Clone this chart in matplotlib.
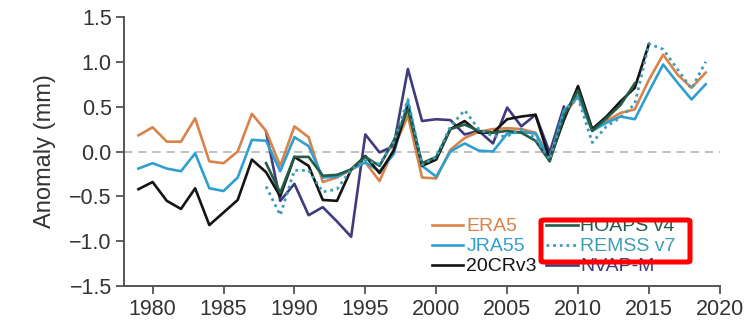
import numpy as np
import matplotlib.pyplot as plt
from matplotlib.patches import FancyBboxPatch

plt.rcParams['font.family'] = ['Liberation Sans', 'DejaVu Sans']

# yearly anomalies (mm)
years_era5 = list(range(1979, 2020))
era5 = [0.18, 0.27, 0.11, 0.11, 0.37, -0.11, -0.13, 0.00, 0.42, 0.23,
        -0.16, 0.28, 0.16, -0.34, -0.29, -0.20, -0.12, -0.33, 0.03, 0.40,
        -0.29, -0.30, 0.02, 0.15, 0.22, 0.25, 0.26, 0.25, 0.21, -0.07,
        0.40, 0.62, 0.25, 0.34, 0.43, 0.47, 0.80, 1.08, 0.86, 0.71, 0.88]

years_jra55 = list(range(1979, 2020))
jra55 = [-0.19, -0.13, -0.19, -0.22, -0.02, -0.41, -0.44, -0.29, 0.13, 0.12,
         -0.22, 0.16, 0.06, -0.29, -0.28, -0.20, -0.12, -0.22, -0.03, 0.56,
         -0.16, -0.28, 0.00, 0.09, 0.01, 0.00, 0.20, 0.22, 0.20, -0.09,
         0.45, 0.62, 0.23, 0.32, 0.39, 0.36, 0.67, 0.97, 0.77, 0.58, 0.75]

years_20cr = list(range(1979, 2016))
cr20 = [-0.42, -0.34, -0.55, -0.64, -0.41, -0.82, -0.68, -0.54, -0.09, -0.23,
        -0.50, -0.06, -0.16, -0.54, -0.55, -0.20, -0.05, -0.24, 0.01, 0.50,
        -0.16, -0.09, 0.25, 0.34, 0.21, 0.21, 0.36, 0.39, 0.41, -0.09,
        0.35, 0.73, 0.25, 0.39, 0.56, 0.71, 1.20]

years_hoaps = list(range(1988, 2015))
hoaps = [-0.13, -0.46, -0.06, -0.06, -0.27, -0.26, -0.20, -0.06, -0.16, 0.12,
         0.47, -0.13, -0.06, 0.25, 0.30, 0.23, 0.21, 0.23, 0.21, 0.12,
         -0.11, 0.40, 0.68, 0.23, 0.37, 0.52, 0.76]

years_remss = list(range(1988, 2020))
remss = [-0.39, -0.71, -0.21, -0.21, -0.45, -0.42, -0.20, -0.10, -0.14, 0.10,
         0.58, -0.15, -0.06, 0.28, 0.46, 0.25, 0.17, 0.17, 0.25, 0.15,
         -0.09, 0.45, 0.60, 0.10, 0.28, 0.38, 0.53, 1.20, 1.14, 0.92,
         0.70, 1.00]

years_nvap = list(range(1988, 2010))
nvap = [0.22, -0.55, -0.36, -0.71, -0.62, -0.78, -0.95, 0.19, -0.01, 0.06,
        0.92, 0.34, 0.36, 0.35, 0.19, 0.23, 0.09, 0.49, 0.28, 0.41,
        -0.01, 0.50]

labels = ['ERA5', 'JRA55', '20CRv3', 'HOAPS v4', 'REMSS v7', 'NVAP-M']
colors = ['#d8834a', '#2f9fd2', '#141414', '#245c48', '#3e9db5', '#3f3b7c']

fig = plt.figure(figsize=(7.53, 3.2), dpi=100)
ax = fig.add_axes([0.165, 0.106, 0.791, 0.841])

ax.axhline(0, color='#b5b5b5', lw=1.2, ls=(0, (5, 3.5)), zorder=1)

lw = 1.9
h_era5, = ax.plot(years_era5, era5, color=colors[0], lw=lw, zorder=3)
h_jra, = ax.plot(years_jra55, jra55, color=colors[1], lw=lw, zorder=3)
h_nvap, = ax.plot(years_nvap, nvap, color=colors[5], lw=lw, zorder=2)
h_cr, = ax.plot(years_20cr, cr20, color=colors[2], lw=lw, zorder=4)
h_hoaps, = ax.plot(years_hoaps, hoaps, color=colors[3], lw=lw, zorder=5)
h_remss, = ax.plot(years_remss, remss, color=colors[4], lw=2.0,
                   ls=(0, (1, 1.4)), zorder=6)

ax.set_xlim(1978, 2020)
ax.set_ylim(-1.5, 1.5)
ax.set_xticks(range(1980, 2021, 5))
ax.set_yticks(np.arange(-1.5, 1.51, 0.5))
ax.set_yticklabels([f'{v:.1f}'.replace('-', '\u2212') for v in np.arange(-1.5, 1.51, 0.5)])

for s in ['top', 'right']:
    ax.spines[s].set_visible(False)
for s in ['left', 'bottom']:
    ax.spines[s].set_color('#555555')
    ax.spines[s].set_linewidth(1.4)
ax.tick_params(axis='both', colors='#555555', width=1.3, length=6,
               labelcolor='#333333', labelsize=15.5)
ax.tick_params(axis='y', pad=3)
ax.tick_params(axis='x', pad=3)

ax.set_ylabel('Anomaly (mm)', fontsize=17, color='#333333')
ax.yaxis.set_label_coords(-0.115, 0.5)

handles = [h_era5, h_jra, h_cr, h_hoaps, h_remss, h_nvap]
leg = ax.legend(handles, labels, ncol=2, frameon=False, fontsize=14,
                loc='lower left', bbox_to_anchor=(0.517, 0.04),
                handlelength=1.6, handletextpad=0.15, columnspacing=0.5,
                labelspacing=0.12, borderpad=0, borderaxespad=0)
for txt, c in zip(leg.get_texts(), colors):
    txt.set_color(c)

# red highlight box around the REMSS entry
box = FancyBboxPatch((541 / 753, 1 - 262 / 320), 149 / 753, 42 / 320,
                     boxstyle='round,pad=0,rounding_size=0.004',
                     transform=fig.transFigure, fill=False,
                     edgecolor='#ff0000', lw=3.6, zorder=10)
fig.patches.append(box)

fig.savefig('out.png', dpi=100)
